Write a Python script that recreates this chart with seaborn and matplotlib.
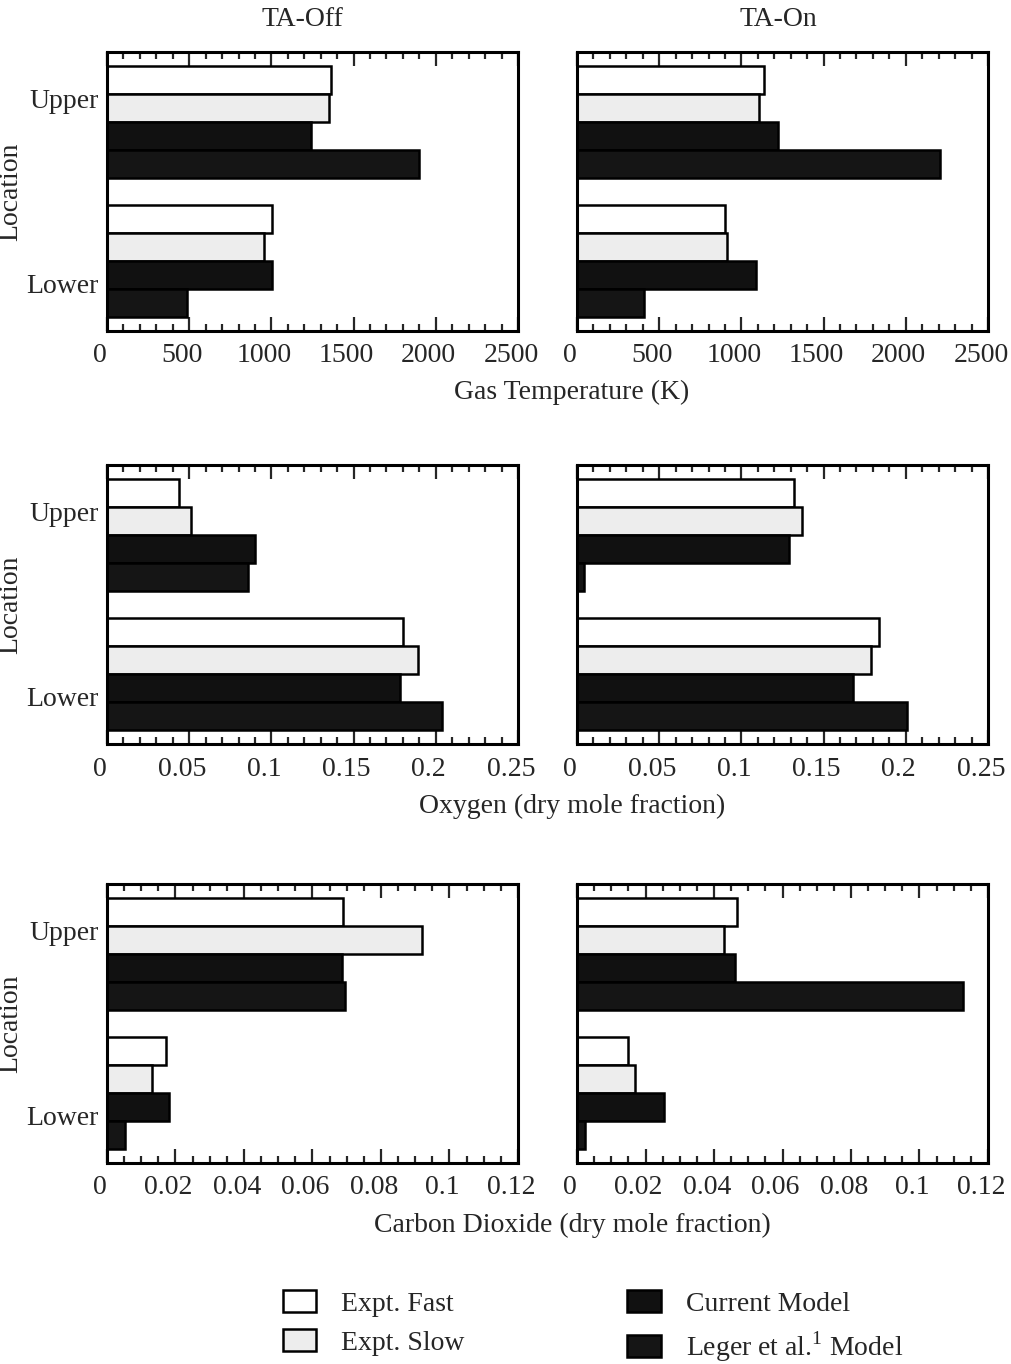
import numpy as np
import pandas as pd
import seaborn as sns
import matplotlib.pyplot as plt
from matplotlib.patches import Patch
from matplotlib.ticker import MultipleLocator, FuncFormatter
from matplotlib.transforms import ScaledTranslation

# series / categories
series = ["Expt. Fast", "Expt. Slow", "Current Model", "Leger et al.$^1$ Model"]
locations = ["Upper", "Lower"]

# gas temperature (K)
temp_off_upper = [1360, 1350, 1240, 1895]
temp_off_lower = [1005, 955, 1005, 485]
temp_on_upper = [1135, 1110, 1220, 2205]
temp_on_lower = [900, 910, 1090, 410]

# oxygen (dry mole fraction)
o2_off_upper = [0.044, 0.051, 0.090, 0.086]
o2_off_lower = [0.180, 0.189, 0.178, 0.204]
o2_on_upper = [0.132, 0.137, 0.129, 0.004]
o2_on_lower = [0.184, 0.179, 0.168, 0.201]

# carbon dioxide (dry mole fraction)
co2_off_upper = [0.069, 0.092, 0.0685, 0.0695]
co2_off_lower = [0.0172, 0.0132, 0.0181, 0.0054]
co2_on_upper = [0.0467, 0.0428, 0.046, 0.1127]
co2_on_lower = [0.0148, 0.017, 0.0254, 0.0023]

colors = ["#ffffff", "#ededed", "#111111", "#151515"]

sns.set_style("white")
plt.rcParams["font.family"] = ["Liberation Serif", "DejaVu Serif"]
plt.rcParams["mathtext.fontset"] = "custom"
plt.rcParams["mathtext.rm"] = "Liberation Serif"
plt.rcParams["font.size"] = 20


def make_df(upper, lower):
    rows = []
    for loc, vals in zip(locations, [upper, lower]):
        for s, v in zip(series, vals):
            rows.append({"Location": loc, "Series": s, "value": v})
    return pd.DataFrame(rows)


def fmt(x, pos):
    return "%g" % round(x, 4)


def draw_panel(ax, upper, lower, xmax, major, minor, show_y):
    df = make_df(upper, lower)
    sns.barplot(data=df, x="value", y="Location", hue="Series", orient="h",
                palette=colors, edgecolor="black", linewidth=1.8,
                errorbar=None, width=0.8, legend=False, ax=ax)
    ax.set_xlim(0, xmax)
    ax.set_ylim(1.5, -0.5)
    ax.xaxis.set_major_locator(MultipleLocator(major))
    ax.xaxis.set_minor_locator(MultipleLocator(minor))
    ax.xaxis.set_major_formatter(FuncFormatter(fmt))
    ax.tick_params(axis="x", which="major", direction="in", top=True, bottom=True,
                   length=10, width=1.6, labelsize=20, pad=9)
    ax.tick_params(axis="x", which="minor", direction="in", top=True, bottom=True,
                   length=5, width=1.6)
    # the scanned original prints its tick labels a little left of the ticks
    shift = ScaledTranslation(-7 / 100, 0, ax.figure.dpi_scale_trans)
    for lab in ax.get_xticklabels():
        lab.set_transform(lab.get_transform() + shift)
    ax.set_yticks([-0.17, 1.16])
    if show_y:
        ax.set_yticklabels(locations)
        ax.set_ylabel("Location", fontsize=20)
        ax.yaxis.set_label_coords(-0.205, 0.5)
    else:
        ax.set_yticklabels([])
        ax.set_ylabel("")
    ax.tick_params(axis="y", length=0, labelsize=20, pad=6)
    ax.set_xlabel("")
    for sp in ax.spines.values():
        sp.set_linewidth(2.2)
        sp.set_color("black")


W, H = 1012, 1364
fig = plt.figure(figsize=(W / 100, H / 100), dpi=100)

col_left = [107, 577]
col_w = 411
row_top = [52, 465, 884]
row_h = 279

panels = [
    (temp_off_upper, temp_off_lower, temp_on_upper, temp_on_lower, 2500, 500, 100),
    (o2_off_upper, o2_off_lower, o2_on_upper, o2_on_lower, 0.25, 0.05, 0.01),
    (co2_off_upper, co2_off_lower, co2_on_upper, co2_on_lower, 0.12, 0.02, 0.005),
]

for r, (ou, ol, nu, nl, xmax, major, minor) in enumerate(panels):
    for c, (u, l) in enumerate([(ou, ol), (nu, nl)]):
        ax = fig.add_axes([col_left[c] / W, 1 - (row_top[r] + row_h) / H,
                           col_w / W, row_h / H])
        draw_panel(ax, u, l, xmax, major, minor, show_y=(c == 0))

fig.text(302 / W, 1 - 20 / H, "TA-Off", ha="center", va="center", fontsize=20)
fig.text(778 / W, 1 - 20 / H, "TA-On", ha="center", va="center", fontsize=20)

xlabels = ["Gas Temperature (K)", "Oxygen (dry mole fraction)",
           "Carbon Dioxide (dry mole fraction)"]
xlabel_y = [392, 806, 1225]
for lab, y in zip(xlabels, xlabel_y):
    fig.text(572 / W, 1 - y / H, lab, ha="center", va="center", fontsize=20)

handles = [Patch(facecolor=col, edgecolor="black", linewidth=1.8) for col in colors]
fig.legend(handles, series, loc="upper left", ncol=2,
           bbox_to_anchor=(283 / W, 1 - 1290 / H), frameon=False,
           borderpad=0, borderaxespad=0, handlelength=1.2, handleheight=0.85,
           handletextpad=0.9, columnspacing=5.85, labelspacing=0.45, fontsize=20)

fig.savefig("out.png", dpi=100)
plt.close(fig)
